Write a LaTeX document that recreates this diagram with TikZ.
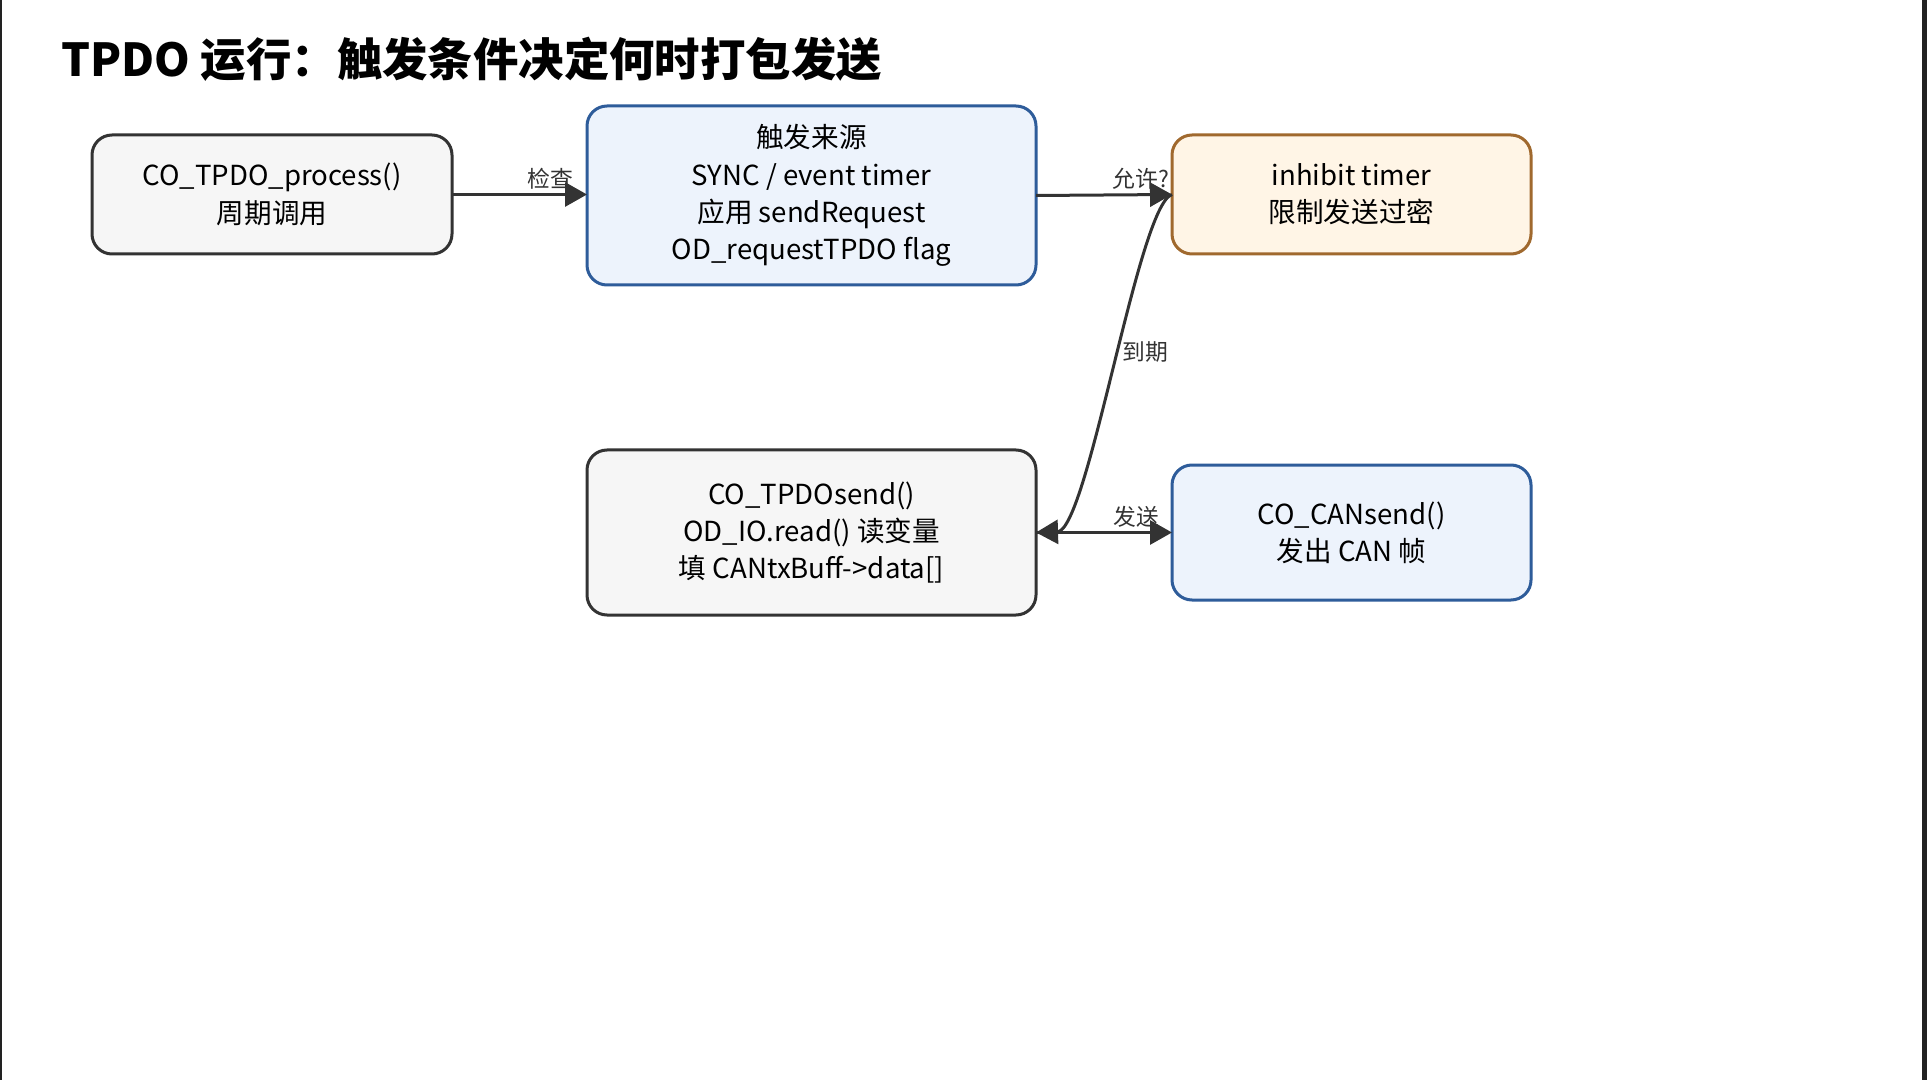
\documentclass[tikz,border=0pt]{standalone}
\usepackage{fontspec}
\setmainfont{Noto Sans CJK SC}
\usetikzlibrary{arrows.meta}
\definecolor{ink}{HTML}{333333}
\definecolor{greyfill}{HTML}{F6F6F6}
\definecolor{bluefill}{HTML}{EDF3FC}
\definecolor{bluestroke}{HTML}{2E5C9A}
\definecolor{orangefill}{HTML}{FFF5E6}
\definecolor{orangestroke}{HTML}{A0692E}
\definecolor{edgeline}{HTML}{222222}
\tikzset{
  box/.style={rounded corners=10pt, line width=1.5pt, align=center, inner sep=0pt, outer sep=0pt,
    font=\fontsize{13.8}{18.6}\selectfont, text=black},
  greybox/.style={box, draw=ink, fill=greyfill},
  bluebox/.style={box, draw=bluestroke, fill=bluefill},
  orangebox/.style={box, draw=orangestroke, fill=orangefill},
  conn/.style={draw=ink, line width=1.5pt, -{Triangle[length=11pt,width=12pt]}},
  lbl/.style={font=\fontsize{11.4}{13}\selectfont, text=ink, inner sep=2pt},
  titlestyle/.style={font=\fontsize{22.7}{26}\selectfont\bfseries, text=black, inner sep=0pt, anchor=west}
}
\begin{document}
\begin{tikzpicture}[x=0.5pt, y=-0.5pt]
  \useasboundingbox (0,0) rectangle (1927,1080);
  \fill[white] (0,0) rectangle (1927,1080);
  \draw[edgeline, line width=1pt] (1,0) -- (1,1080);
  \draw[edgeline, line width=2.5pt] (1924.5,0) -- (1924.5,1080);

  \node[titlestyle] (title) at (61,59) {TPDO 运行：触发条件决定何时打包发送};

  \node[greybox, minimum width=180pt, minimum height=59.5pt] (n1) at (272,194.5)
    {CO\_TPDO\_process()\\周期调用};
  \node[bluebox, minimum width=224.5pt, minimum height=89.5pt] (n2) at (811.5,195.5)
    {触发来源\\SYNC / event timer\\应用 sendRequest\\OD\_requestTPDO flag};
  \node[orangebox, minimum width=179.5pt, minimum height=59.5pt] (n3) at (1351.5,194.5)
    {inhibit timer\\限制发送过密};
  \node[greybox, minimum width=224.5pt, minimum height=82.5pt] (n4) at (811.5,532.5)
    {CO\_TPDOsend()\\OD\_IO.read() 读变量\\填 CANtxBuff->data[]};
  \node[bluebox, minimum width=179.5pt, minimum height=67.5pt] (n5) at (1351.5,532.5)
    {CO\_CANsend()\\发出 CAN 帧};

  \draw[conn] (n1.east) -- (n1.east -| n2.west) node[lbl, above, pos=0.73] {检查};
  \draw[conn] (n2.east) -- (n3.west) node[lbl, above, pos=0.77] {允许?};
  \draw[conn] (n3.west) .. controls (1138,205) and (1088,531) .. (n4.east)
    node[lbl, anchor=west, pos=0.47, xshift=1pt] {到期};
  \draw[conn] (n4.east) -- (n5.west) node[lbl, above, pos=0.74] {发送};
\end{tikzpicture}
\end{document}
